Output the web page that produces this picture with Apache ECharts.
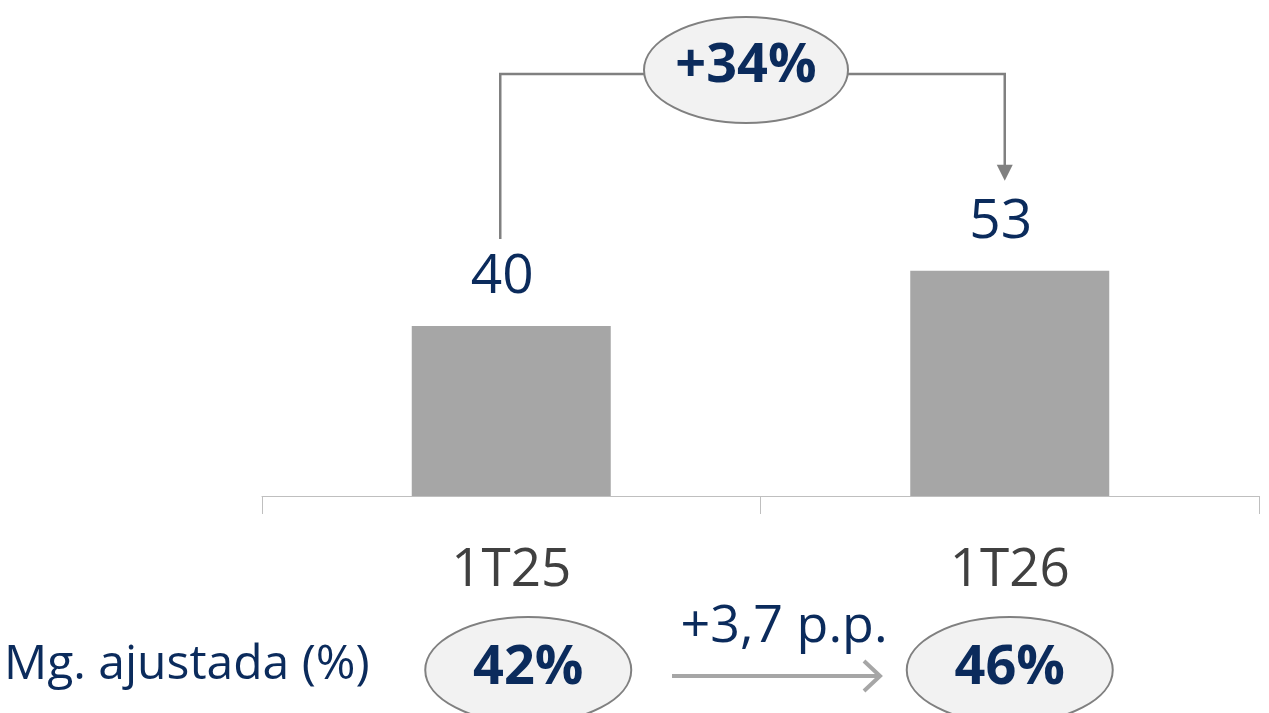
<!DOCTYPE html>
<html>
<head>
<meta charset="utf-8">
<script src="https://cdn.jsdelivr.net/npm/echarts@6/dist/echarts.min.js"></script>
<style>
	html, body { margin: 0; padding: 0; background: #fff; }
	#chartContainer { width: 1269px; height: 713px; }
</style>
</head>
<body>
<div id="chartContainer"></div>
<script>
var categories = ['1T25', '1T26'];
var values = [40, 53];
var margins = ['42%', '46%'];
var growthLabel = '+34%';
var marginLabel = 'Mg. ajustada (%)';
var marginDelta = '+3,7 p.p.';

var navy = '#0b2b5c';
var fontName = '"Open Sans", sans-serif';

var chart = echarts.init(document.getElementById('chartContainer'));

var option = {
	animation: false,
	grid: { left: 262, right: 10, top: 71, bottom: 217 },
	xAxis: {
		type: 'category',
		data: categories,
		axisLine: { lineStyle: { color: '#bfbfbf', width: 1 } },
		axisTick: { show: true, length: 18, lineStyle: { color: '#bfbfbf' } },
		axisLabel: { color: '#404040', fontSize: 53, fontFamily: fontName, margin: 48 }
	},
	yAxis: {
		type: 'value', min: 0, max: 100, show: false,
		splitLine: { show: false }
	},
	series: [{
		type: 'bar',
		data: values,
		barWidth: 199,
		itemStyle: { color: '#a6a6a6' },
		label: {
			show: true, position: 'top', distance: 21,
			offset: [-9, 0],
			color: navy, fontSize: 55, fontFamily: fontName
		}
	}]
};
chart.setOption(option);

function px(i) {
	return chart.convertToPixel({ xAxisIndex: 0, yAxisIndex: 0 }, [i, values[i]]);
}

// oval badge with bold text
function ellipse(cx, cy, rx, ry, text, ty) {
	return [{
		type: 'ellipse', z: 10,
		shape: { cx: cx, cy: cy, rx: rx, ry: ry },
		style: { fill: '#f2f2f2', stroke: '#808080', lineWidth: 2 }
	}, {
		type: 'text', z: 11, x: cx, y: ty,
		style: { text: text, fill: navy, font: 'bold 54px ' + fontName, align: 'center', verticalAlign: 'middle' }
	}];
}

var p0 = px(0), p1 = px(1);
var lx = p0[0] - 11, rx = p1[0] - 5, topY = 74;
var graphic = [];
graphic.push({
	type: 'polyline', z: 5,
	shape: { points: [[lx, p0[1] - 87], [lx, topY], [rx, topY], [rx, p1[1] - 104]] },
	style: { stroke: '#808080', lineWidth: 2.5, fill: null }
});
graphic.push({
	type: 'polygon', z: 5,
	shape: { points: [[rx - 8, p1[1] - 106], [rx + 8, p1[1] - 106], [rx, p1[1] - 90]] },
	style: { fill: '#808080' }
});
graphic = graphic.concat(ellipse(746, 70, 102, 53, growthLabel, 67));

graphic.push({
	type: 'text', x: 4, y: 665,
	style: { text: marginLabel, fill: navy, font: '48px ' + fontName, verticalAlign: 'middle' }
});
graphic = graphic.concat(ellipse(p0[0] + 17, 670, 103, 53, margins[0], 669));
graphic = graphic.concat(ellipse(p1[0] + 0, 670, 103, 53, margins[1], 669));
graphic.push({
	type: 'polyline',
	shape: { points: [[672, 676], [880, 676]] },
	style: { stroke: '#a6a6a6', lineWidth: 4, fill: null }
});
graphic.push({
	type: 'polyline',
	shape: { points: [[864, 661], [880, 676], [864, 691]] },
	style: { stroke: '#a6a6a6', lineWidth: 4, fill: null }
});
graphic.push({
	type: 'text', x: 784, y: 627,
	style: { text: marginDelta, fill: navy, font: '52px ' + fontName, align: 'center', verticalAlign: 'middle' }
});

chart.setOption({ graphic: graphic });
</script>
</body>
</html>
